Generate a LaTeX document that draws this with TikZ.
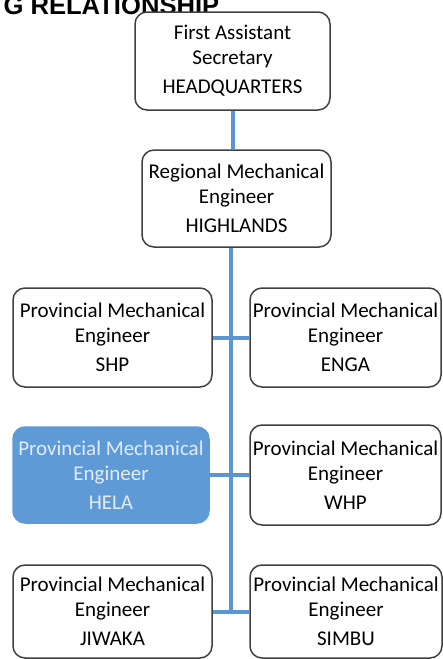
\documentclass[tikz,border=0pt]{standalone}
\usepackage{fontspec}
\setmainfont{Carlito}
\newfontfamily\headfont{Liberation Sans}
\definecolor{boxgray}{HTML}{404040}
\definecolor{linkblue}{HTML}{5B95D2}
\definecolor{helablue}{HTML}{5E9AD6}
\definecolor{helatext}{HTML}{E2ECF8}
\tikzstyle{post}=[draw=boxgray, line width=1.5pt, rounded corners=12pt, fill=white, align=center, inner sep=2pt, font=\fontsize{21}{25}\selectfont]
\tikzstyle{hela post}=[post, draw=helablue, fill=helablue, text=helatext]
\tikzstyle{link}=[draw=linkblue, line width=4pt]

\begin{document}
\begin{tikzpicture}[x=1pt, y=-1pt]
      \useasboundingbox (0, 0) rectangle (443, 659);
      \node[anchor=base west, font=\headfont\bfseries\fontsize{25.6}{30}\selectfont] (title) at (0, 14) {G RELATIONSHIP};

      \node[post, minimum width=195pt, minimum height=98pt] (hq) at (232.5, 61)
        {First Assistant\\Secretary\\[4pt]HEADQUARTERS};
      \node[post, minimum width=189pt, minimum height=97pt] (rme) at (236.5, 198.5)
        {Regional Mechanical\\Engineer\\[4pt]HIGHLANDS};

      \node[post, minimum width=199pt, minimum height=99pt] (shp) at (112.5, 337.5)
        {Provincial Mechanical\\Engineer\\[4pt]SHP};
      \node[post, minimum width=191pt, minimum height=99pt] (enga) at (345.5, 337.5)
        {Provincial Mechanical\\Engineer\\[4pt]ENGA};
      \node[hela post, minimum width=196pt, minimum height=96pt] (hela) at (111, 475)
        {Provincial Mechanical\\Engineer\\[4pt]HELA};
      \node[post, minimum width=191pt, minimum height=100pt] (whp) at (345.5, 475)
        {Provincial Mechanical\\Engineer\\[4pt]WHP};
      \node[post, minimum width=199pt, minimum height=93pt] (jiwaka) at (112.5, 611.5)
        {Provincial Mechanical\\Engineer\\[4pt]JIWAKA};
      \node[post, minimum width=192pt, minimum height=93pt] (simbu) at (346, 611.5)
        {Provincial Mechanical\\Engineer\\[4pt]SIMBU};

      % spine
      \coordinate (j3) at (231, 611.5);
      \draw[link] (hq.south) -- (hq.south |- rme.north);
      \draw[link] (rme.south -| j3) -- (j3);

      \draw[link] (shp) -- (enga);
      \draw[link] (hela) -- (whp);
      \draw[link] (jiwaka) -- (simbu);
    \end{tikzpicture}
\end{document}
